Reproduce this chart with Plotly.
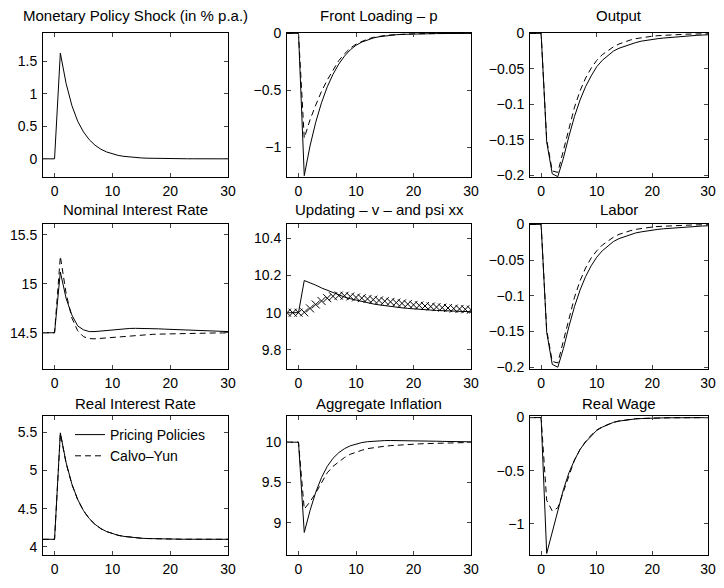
import plotly.graph_objects as go
from plotly.subplots import make_subplots

t = list(range(-2, 31))

# impulse responses, periods -2..30
shock = [0, 0, 0, 1.63, 1.16, 0.82, 0.58, 0.415, 0.295, 0.21, 0.149, 0.106, 0.075, 0.053,
         0.038, 0.027, 0.019, 0.014, 0.01, 0.007, 0.005, 0.0035, 0.0025, 0.002, 0.001, 0.001,
         0.001, 0, 0, 0, 0, 0, 0]

front_pp = [0, 0, 0, -1.25, -0.99, -0.78, -0.61, -0.47, -0.36, -0.27, -0.2, -0.145, -0.105,
            -0.077, -0.056, -0.041, -0.03, -0.022, -0.016, -0.012, -0.009, -0.007, -0.005,
            -0.004, -0.003, -0.0025, -0.002, -0.0016, -0.0013, -0.001, -0.0008, -0.0006, -0.0005]
front_cy = [0, 0, 0, -0.92, -0.76, -0.63, -0.51, -0.41, -0.32, -0.24, -0.18, -0.13, -0.095,
            -0.07, -0.05, -0.036, -0.026, -0.019, -0.014, -0.01, -0.007, -0.005, -0.004,
            -0.003, -0.0022, -0.0016, -0.0012, -0.0009, -0.0007, -0.0005, -0.0004, -0.0003, -0.0002]

output_pp = [0, 0, 0, -0.153, -0.198, -0.202, -0.176, -0.145, -0.117, -0.094, -0.075, -0.06,
             -0.047, -0.038, -0.031, -0.025, -0.021, -0.018, -0.015, -0.013, -0.011, -0.0095,
             -0.0085, -0.0075, -0.0066, -0.0058, -0.005, -0.0044, -0.0038, -0.0033, -0.0028,
             -0.0024, -0.002]
output_cy = [0, 0, 0, -0.15, -0.194, -0.196, -0.166, -0.133, -0.104, -0.081, -0.063, -0.049,
             -0.038, -0.03, -0.024, -0.019, -0.015, -0.012, -0.0095, -0.0075, -0.006, -0.0048,
             -0.004, -0.0033, -0.0027, -0.0022, -0.0018, -0.0015, -0.0012, -0.001, -0.0008,
             -0.0007, -0.0006]

nominal_pp = [14.5, 14.5, 14.5, 15.12, 14.85, 14.68, 14.57, 14.53, 14.512, 14.512, 14.518,
              14.526, 14.533, 14.538, 14.542, 14.544, 14.545, 14.545, 14.544, 14.542, 14.54,
              14.537, 14.535, 14.532, 14.53, 14.527, 14.525, 14.522, 14.52, 14.518, 14.516,
              14.514, 14.512]
nominal_cy = [14.5, 14.5, 14.5, 15.28, 14.9, 14.65, 14.52, 14.46, 14.44, 14.438, 14.443,
              14.449, 14.455, 14.461, 14.466, 14.47, 14.474, 14.478, 14.481, 14.484, 14.486,
              14.488, 14.49, 14.492, 14.493, 14.494, 14.495, 14.496, 14.497, 14.497, 14.498,
              14.498, 14.499]

updating_v = [10, 10, 10, 10.173, 10.162, 10.148, 10.133, 10.12, 10.107, 10.095, 10.084,
              10.075, 10.067, 10.06, 10.053, 10.047, 10.042, 10.037, 10.033, 10.029, 10.026,
              10.023, 10.02, 10.018, 10.016, 10.014, 10.012, 10.011, 10.01, 10.008, 10.007,
              10.006, 10.005]
updating_psi = [10, 10, 10, 10.002, 10.023, 10.044, 10.063, 10.078, 10.088, 10.092, 10.091,
                10.087, 10.082, 10.078, 10.074, 10.07, 10.066, 10.062, 10.058, 10.054, 10.05,
                10.046, 10.042, 10.039, 10.036, 10.033, 10.03, 10.027, 10.025, 10.022, 10.02,
                10.018, 10.016]

labor_pp = [0, 0, 0, -0.151, -0.196, -0.2, -0.174, -0.143, -0.115, -0.092, -0.073, -0.058,
            -0.046, -0.037, -0.03, -0.024, -0.02, -0.017, -0.014, -0.012, -0.0105, -0.009,
            -0.008, -0.007, -0.0062, -0.0055, -0.0048, -0.0042, -0.0036, -0.0031, -0.0027,
            -0.0023, -0.002]
labor_cy = [0, 0, 0, -0.148, -0.192, -0.194, -0.164, -0.131, -0.102, -0.079, -0.061, -0.047,
            -0.037, -0.029, -0.023, -0.018, -0.014, -0.011, -0.009, -0.007, -0.0056, -0.0045,
            -0.0037, -0.003, -0.0025, -0.002, -0.0016, -0.0013, -0.0011, -0.0009, -0.0007,
            -0.0006, -0.0005]

real_pp = [4.1, 4.1, 4.1, 5.49, 5.1, 4.82, 4.62, 4.475, 4.37, 4.295, 4.24, 4.201, 4.173,
           4.152, 4.138, 4.127, 4.12, 4.114, 4.11, 4.107, 4.105, 4.104, 4.103, 4.102, 4.101,
           4.101, 4.1, 4.1, 4.1, 4.1, 4.1, 4.1, 4.1]
real_cy = [4.1, 4.1, 4.1, 5.48, 5.09, 4.815, 4.617, 4.473, 4.369, 4.294, 4.24, 4.201, 4.173,
           4.152, 4.138, 4.127, 4.12, 4.114, 4.11, 4.107, 4.105, 4.104, 4.103, 4.102, 4.101,
           4.101, 4.1, 4.1, 4.1, 4.1, 4.1, 4.1, 4.1]

infl_pp = [10, 10, 10, 8.88, 9.15, 9.38, 9.56, 9.7, 9.8, 9.87, 9.92, 9.955, 9.978, 9.995,
           10.006, 10.013, 10.018, 10.02, 10.021, 10.021, 10.02, 10.019, 10.018, 10.016, 10.015,
           10.013, 10.012, 10.01, 10.009, 10.008, 10.007, 10.006, 10.005]
infl_cy = [10, 10, 10, 9.17, 9.26, 9.37, 9.5, 9.62, 9.7, 9.76, 9.81, 9.85, 9.88, 9.9, 9.92,
           9.932, 9.942, 9.95, 9.957, 9.963, 9.968, 9.972, 9.976, 9.979, 9.982, 9.985, 9.987,
           9.989, 9.991, 9.993, 9.994, 9.995, 9.996]

wage_pp = [0, 0, 0, -1.28, -1.07, -0.88, -0.68, -0.52, -0.4, -0.3, -0.23, -0.17, -0.12, -0.09,
           -0.065, -0.045, -0.033, -0.024, -0.017, -0.012, -0.009, -0.006, -0.004, -0.003,
           -0.0025, -0.002, -0.0015, -0.0012, -0.001, -0.0008, -0.0006, -0.0005, -0.0004]
wage_cy = [0, 0, 0, -0.78, -0.88, -0.85, -0.7, -0.53, -0.4, -0.3, -0.225, -0.165, -0.117,
           -0.087, -0.062, -0.044, -0.032, -0.023, -0.016, -0.011, -0.008, -0.0055, -0.004,
           -0.003, -0.0022, -0.0017, -0.0013, -0.001, -0.0008, -0.0006, -0.0005, -0.0004, -0.0003]

titles = ["Monetary Policy Shock (in % p.a.)", "Front Loading \u2013 p", "Output",
          "Nominal Interest Rate", "Updating \u2013 v \u2013 and psi xx", "Labor",
          "Real Interest Rate", "Aggregate Inflation", "Real Wage"]

y_ranges = [[-0.28, 1.94], [-1.262, 0.003], [-0.2025, 0.0005],
            [14.13, 15.61], [9.697, 10.477], [-0.2025, 0.0005],
            [3.895, 5.71], [8.6, 10.325], [-1.295, 0.015]]
y_ticks = [[0, 0.5, 1, 1.5], [-1, -0.5, 0], [-0.2, -0.15, -0.1, -0.05, 0],
           [14.5, 15, 15.5], [9.8, 10, 10.2, 10.4], [-0.2, -0.15, -0.1, -0.05, 0],
           [4, 4.5, 5, 5.5], [9, 9.5, 10], [-1, -0.5, 0]]

# page body has an 8px margin, so the figure is drawn 8px in from the corner
OFF = 8
W, H = 724 - 2 * OFF, 588 - 2 * OFF
col_px = [(43, 228), (287, 471), (530, 708)]
row_px = [(33, 177), (224, 369), (416, 555)]
title_gap = [17, 15, 13]

fig = make_subplots(rows=3, cols=3)

solid = dict(color="black", width=1)
dashed = dict(color="black", width=1, dash="6px,4px")

panels = [
    (shock, None), (front_pp, front_cy), (output_pp, output_cy),
    (nominal_pp, nominal_cy), (updating_v, None), (labor_pp, labor_cy),
    (real_pp, real_cy), (infl_pp, infl_cy), (wage_pp, wage_cy),
]

for i, (pp, cy) in enumerate(panels):
    r, c = i // 3 + 1, i % 3 + 1
    leg = (i == 6)
    fig.add_trace(go.Scatter(x=t, y=pp, mode="lines", line=solid, name="Pricing Policies",
                             showlegend=leg), row=r, col=c)
    if cy is not None:
        fig.add_trace(go.Scatter(x=t, y=cy, mode="lines", line=dashed, name="Calvo\u2013Yun",
                                 showlegend=leg), row=r, col=c)
    if i == 4:
        fig.add_trace(go.Scatter(x=t, y=updating_psi, mode="markers", showlegend=False,
                                 marker=dict(symbol="x-thin", size=8, color="black",
                                             line=dict(width=1, color="black"))),
                      row=r, col=c)

    x0, x1 = [p - OFF for p in col_px[c - 1]]
    y0, y1 = [p - OFF for p in row_px[r - 1]]
    ax = "" if i == 0 else str(i + 1)
    common = dict(ticks="inside", ticklen=4, mirror="allticks", showline=True,
                  linecolor="black", linewidth=1, showgrid=False, zeroline=False,
                  automargin=False, ticklabeloverflow="allow",
                  tickfont=dict(size=14, color="black"))
    fig.layout["xaxis" + ax].update(domain=[x0 / W, x1 / W], range=[-2, 30],
                                    tickvals=[0, 10, 20, 30], ticklabelstandoff=1, **common)
    fig.layout["yaxis" + ax].update(domain=[1 - y1 / H, 1 - y0 / H], range=y_ranges[i],
                                    tickvals=y_ticks[i], ticklabelstandoff=2, **common)
    fig.add_annotation(text=titles[i], x=(x0 + x1) / 2 / W, y=1 - (y0 - title_gap[r - 1]) / H,
                       xref="paper", yref="paper", xanchor="center", yanchor="middle",
                       showarrow=False, font=dict(size=15, color="black"))

fig.update_layout(
    width=W, height=H, margin=dict(l=0, r=0, t=0, b=0),
    paper_bgcolor="white", plot_bgcolor="white",
    font=dict(family="Liberation Sans, Arial, sans-serif", color="black"),
    legend=dict(x=(70 - OFF) / W, y=1 - (419 - OFF) / H, xanchor="left", yanchor="top",
                bgcolor="rgba(0,0,0,0)", font=dict(size=14), tracegroupgap=0),
)

fig.write_html("out.html")
